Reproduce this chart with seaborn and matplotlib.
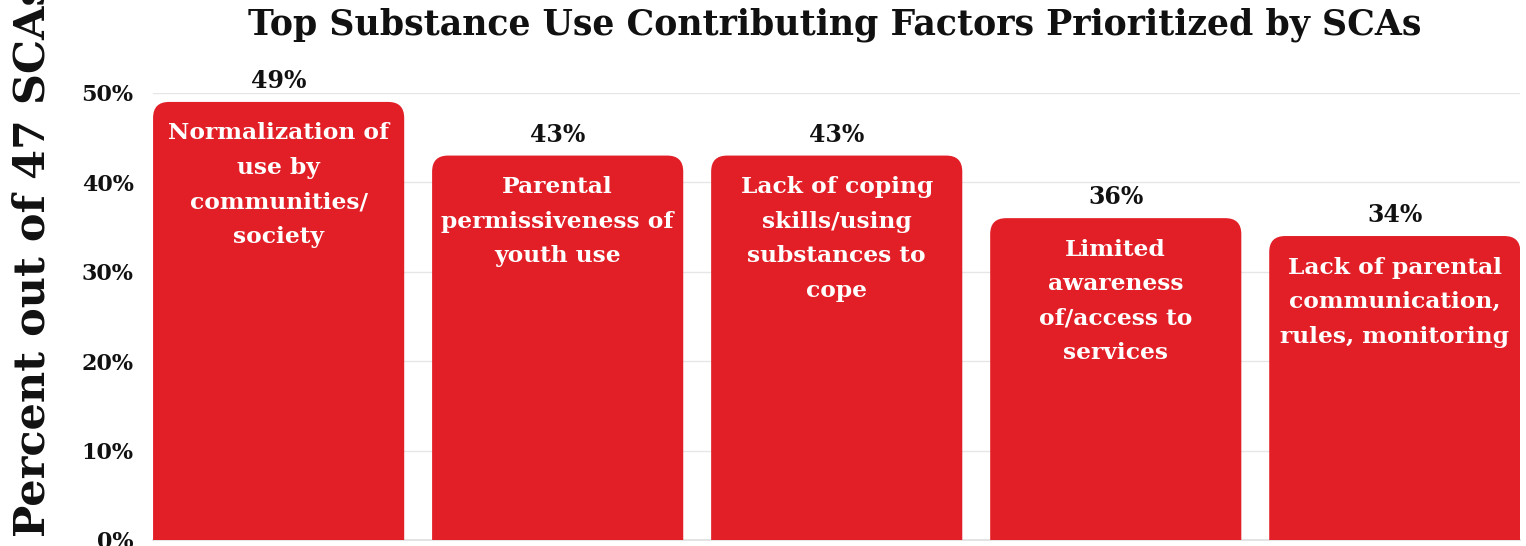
import matplotlib
matplotlib.use("Agg")
import matplotlib.pyplot as plt
from matplotlib.patches import FancyBboxPatch
import seaborn as sns
import pandas as pd

categories = [
    "Normalization of\nuse by\ncommunities/\nsociety",
    "Parental\npermissiveness of\nyouth use",
    "Lack of coping\nskills/using\nsubstances to\ncope",
    "Limited\nawareness\nof/access to\nservices",
    "Lack of parental\ncommunication,\nrules, monitoring",
]
values = [49, 43, 43, 36, 34]
yticks = [0, 10, 20, 30, 40, 50]
ytick_labels = ["0%", "10%", "20%", "30%", "40%", "50%"]

RED = "#E21F27"
FONT = "DejaVu Serif"

sns.set_theme(style="white")
plt.rcParams["font.family"] = [FONT]

df = pd.DataFrame({"factor": categories, "pct": values})

fig = plt.figure(figsize=(15.26, 5.46), dpi=100)
ax = fig.add_axes([0.1003, 0.011, 0.896, 0.8297 - 0.011])

sns.barplot(data=df, x="factor", y="pct", color=RED, width=0.9,
            saturation=1, ax=ax)

ax.set_xlim(-0.45, 4.45)
ax.set_ylim(0, 50)

# swap the square bars for ones with rounded top corners
fig.canvas.draw()
bbox = ax.get_window_extent()
px_per_x = bbox.width / (ax.get_xlim()[1] - ax.get_xlim()[0])
px_per_y = bbox.height / (ax.get_ylim()[1] - ax.get_ylim()[0])
radius_px = 16
for p in list(ax.patches):
    x0, w, h = p.get_x(), p.get_width(), p.get_height()
    p.remove()
    extra = 5
    rb = FancyBboxPatch((x0, -extra), w, h + extra,
                        boxstyle=f"round,pad=0,rounding_size={radius_px / px_per_x}",
                        mutation_aspect=px_per_x / px_per_y,
                        facecolor=RED, edgecolor="none", zorder=3)
    rb.set_clip_on(True)
    ax.add_patch(rb)

# percentages above bars and category names inside them
for i, (cat, v) in enumerate(zip(categories, values)):
    ax.text(i, v + 1.0, f"{v}%", ha="center", va="bottom", fontsize=17,
            fontweight="bold", color="#111111", family=FONT, clip_on=False)
    ax.text(i, v - 2.3, cat, ha="center", va="top", fontsize=16.8,
            fontweight="bold", color="white", family=FONT,
            linespacing=1.74, zorder=4)

ax.set_yticks(yticks)
ax.set_yticklabels(ytick_labels, fontsize=16, fontweight="bold",
                   color="#111111", family=FONT)
ax.tick_params(axis="y", length=0, pad=14)
ax.set_xticks([])
ax.set_xlabel("")
ax.set_ylabel("Percent out of 47 SCAs", fontsize=31, fontweight="bold",
              color="#111111", family=FONT)
ax.yaxis.set_label_coords(-0.073, 0.628)

ax.grid(axis="y", color="#E6E6E6", linewidth=1, zorder=0)
ax.set_axisbelow(True)
for s in ["left", "right", "top"]:
    ax.spines[s].set_visible(False)
ax.spines["bottom"].set_color("#E0E0E0")

fig.text(0.547, 0.955, "Top Substance Use Contributing Factors Prioritized by SCAs",
         ha="center", va="center", fontsize=25, fontweight="bold",
         color="#111111", family=FONT)

fig.savefig("out.png", dpi=100)
